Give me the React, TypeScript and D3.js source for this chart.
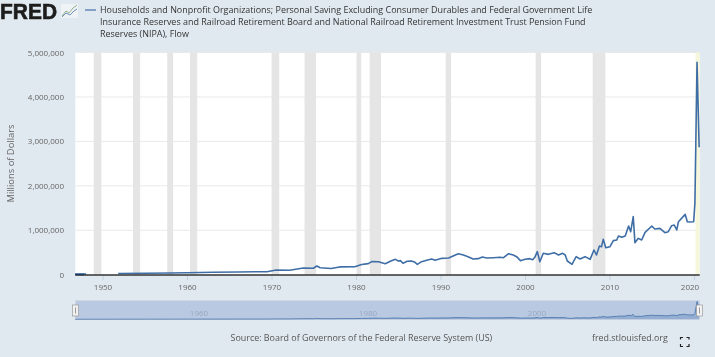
import React from "react";
import * as d3 from "d3";

const seriesYears = [1946.7,1948.0,1948.1,1951.8,1955,1958,1960,1963,1966,1968,1969.4,1970.5,1972.1,1973.7,1974.9,1975.3,1975.7,1977,1978,1979.8,1980.6,1981.4,1981.8,1982.6,1983.4,1984.0,1984.6,1984.95,1985.2,1985.5,1986.0,1986.5,1986.85,1987.2,1987.7,1988.3,1988.9,1989.3,1990.1,1990.9,1991.5,1992.05,1992.65,1993.2,1993.8,1994.4,1994.9,1995.4,1996.2,1997.0,1997.4,1998.0,1998.55,1998.95,1999.4,1999.95,2000.5,2000.85,2001.1,2001.4,2001.7,2002.1,2002.7,2003.4,2003.9,2004.4,2004.7,2004.95,2005.5,2006.0,2006.45,2007.05,2007.65,2008.1,2008.4,2008.75,2009.0,2009.2,2009.5,2010.0,2010.4,2010.8,2011.0,2011.4,2011.8,2012.2,2012.45,2012.75,2012.95,2013.35,2013.75,2014.15,2014.95,2015.3,2015.9,2016.5,2016.9,2017.3,2017.6,2017.9,2018.1,2018.9,2019.15,2019.4,2019.9,2020.05,2020.3,2020.55];
const seriesValues = [12000,15000,NaN,28000,33000,38000,45000,55000,62000,66000,67000,105000,100000,150000,145000,195000,155000,140000,175000,180000,230000,250000,295000,293000,248000,301000,346000,308000,316000,256000,301000,308000,286000,233000,293000,323000,353000,323000,368000,376000,428000,473000,443000,406000,353000,361000,398000,376000,383000,391000,383000,473000,443000,406000,316000,346000,361000,338000,391000,518000,293000,481000,458000,496000,443000,481000,443000,308000,233000,406000,353000,406000,346000,556000,443000,646000,631000,796000,608000,631000,766000,781000,871000,841000,871000,1096000,968000,1306000,721000,818000,781000,953000,1096000,1028000,1043000,946000,968000,1103000,1118000,1006000,1193000,1358000,1193000,1186000,1190000,1610000,4780000,2870000];
const recessionStarts = [1948.9,1953.55,1957.6,1960.3,1969.95,1973.85,1980.0,1981.55,1990.55,2001.2,2007.95];
const recessionEnds = [1949.8,1954.4,1958.3,1961.15,1970.85,1975.2,1980.55,1982.9,1991.2,2001.85,2009.45];
const yTicks = [0,1000000,2000000,3000000,4000000,5000000];
const xTicks = [1950,1960,1970,1980,1990,2000,2010,2020];
const navLabels = [1960,1980,2000];
const titleLines = [
  "Households and Nonprofit Organizations; Personal Saving Excluding Consumer Durables and Federal Government Life",
  "Insurance Reserves and Railroad Retirement Board and National Railroad Retirement Investment Trust Pension Fund",
  "Reserves (NIPA), Flow",
];
const FONT = "'Open Sans', sans-serif";
const points = seriesYears.map((y, i) => ({ y, v: seriesValues[i] }));

export default function App() {
  const x = d3.scaleLinear().domain([1950, 2010]).range([103, 610]);
  const y = d3.scaleLinear().domain([0, 5000000]).range([274.7, 52.5]);
  const navY = d3.scaleLinear().domain([0, 4780000]).range([319.3, 301.5]);
  const left = 75.3, right = 699.7;
  const line = d3.line<{y:number;v:number}>().defined(d => !isNaN(d.v)).x(d => x(d.y)).y(d => y(d.v));
  const navPts = points.filter(d => !isNaN(d.v));
  const navArea = d3.area<{y:number;v:number}>().x(d => x(d.y)).y0(319.3).y1(d => navY(d.v));
  const navLine = d3.line<{y:number;v:number}>().x(d => x(d.y)).y(d => navY(d.v));
  const fmt = d3.format(",");
  return (
    <svg width={715} height={357} style={{ position: "absolute", left: 0, top: 0, filter: "blur(0.35px)" }} fontFamily={FONT}>
      <rect width={715} height={357} fill="#e1e9f0" />
      {/* logo */}
      <text x={0} y={18.5} fontFamily="'Liberation Sans', sans-serif" fontWeight={700} fontSize={21.5} fill="#1c1c1c" stroke="#1c1c1c" strokeWidth={0.6} textLength={57} lengthAdjust="spacingAndGlyphs">FRED</text>
      <rect x={61} y={4} width={17} height={14} fill="#f0f3f5" />
      <path d="M62,16 L66,11 L69,13 L73,8 L77,5" fill="none" stroke="#8fb08a" strokeWidth={1} />
      <path d="M62,17 L66,13 L70,15 L74,11 L77,9" fill="none" stroke="#6d8fb8" strokeWidth={1} />
      {/* legend */}
      <line x1={85} x2={96} y1={10} y2={10} stroke="#4572a7" strokeWidth={1.2} />
      {titleLines.map((t, i) => (
        <text key={i} x={100} y={13.2 + i * 12} fontSize={8.95} fill="#333">{t}</text>
      ))}
      {/* plot */}
      <rect x={left} y={52.5} width={right - left} height={222.2} fill="#fff" />
      {yTicks.slice(1).map(t => (
        <line key={t} x1={left} x2={right} y1={y(t)} y2={y(t)} stroke="#e9e9e9" strokeWidth={1} />
      ))}
      {recessionStarts.map((s, i) => (
        <rect key={s} x={x(s)} y={52.5} width={x(recessionEnds[i]) - x(s)} height={222.2} fill="#e5e5e5" />
      ))}
      <rect x={x(2020.12)} y={52.5} width={right - x(2020.12)} height={222.2} fill="#f6f6dc" />
      {xTicks.map(t => (
        <line key={t} x1={x(t)} x2={x(t)} y1={275} y2={280} stroke="#c0d0e0" strokeWidth={1} />
      ))}
      <path d={line(points) ?? ""} fill="none" stroke="#3f6ea6" strokeWidth={1.6} strokeLinejoin="round" />
      <line x1={left} x2={right} y1={275} y2={275} stroke="#333" strokeWidth={1.3} />
      <line x1={left} x2={84} y1={274.5} y2={274.5} stroke="#1f3a60" strokeWidth={1.5} />
      {/* axes */}
      {yTicks.map(t => (
        <text key={t} x={64} y={y(t) + 3} textAnchor="end" fontSize={8} fill="#666">{fmt(t)}</text>
      ))}
      <text transform="translate(14,163.5) rotate(-90)" textAnchor="middle" fontSize={9.4} fill="#666">Millions of Dollars</text>
      {xTicks.map(t => (
        <text key={t} x={t === 2020 ? 690 : x(t)} y={290} textAnchor="middle" fontSize={8} fill="#666">{t}</text>
      ))}
      {/* navigator */}
      <rect x={left} y={300.7} width={right - left} height={18.6} fill="#b9c9e2" stroke="#cfd5e0" strokeWidth={0.6} />
      <path d={navArea(navPts) ?? ""} fill="#8aa6d0" opacity={0.8} />
      <path d={navLine(navPts) ?? ""} fill="none" stroke="#4572a7" strokeWidth={0.8} />
      {navLabels.map(t => (
        <text key={t} x={x(t) + 11.5} y={316} textAnchor="middle" fontSize={8} fill="#98a8c0">{t}</text>
      ))}
      <rect x={72.5} y={305} width={6} height={11} fill="#f2f2f2" stroke="#999" strokeWidth={0.7} />
      <line x1={75.5} x2={75.5} y1={307.5} y2={313.5} stroke="#999" strokeWidth={1} />
      <rect x={696.5} y={305} width={6} height={11} fill="#f2f2f2" stroke="#999" strokeWidth={0.7} />
      <line x1={699.5} x2={699.5} y1={307.5} y2={313.5} stroke="#999" strokeWidth={1} />
      {/* footer */}
      <text x={230.5} y={340.5} fontSize={8.93} fill="#555">Source: Board of Governors of the Federal Reserve System (US)</text>
      <text x={592} y={340.5} fontSize={8.9} fill="#555">fred.stlouisfed.org</text>
      <path d="M680.5,339.5 V337.5 H683 M686.5,337.5 H689 V339.5 M680.5,344 V346.5 H683 M686.5,346.5 H689 V344" fill="none" stroke="#222" strokeWidth={1.2} />
    </svg>
  );
}
